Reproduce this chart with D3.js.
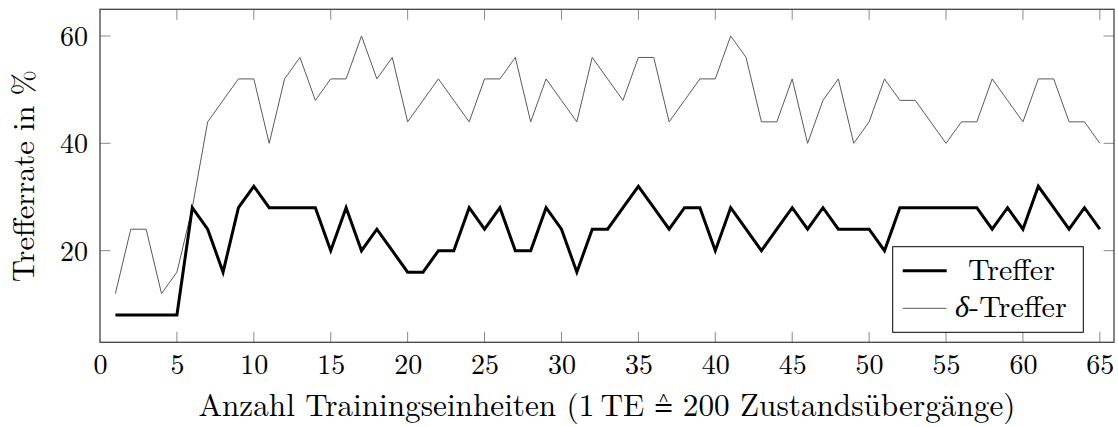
<!DOCTYPE html>
<html>
<head>
<meta charset="utf-8">
<script src="https://cdn.jsdelivr.net/npm/d3@7"></script>
<style>
  html, body { margin: 0; padding: 0; background: #fff; }
  svg { display: block; }
</style>
</head>
<body>
<svg id="chart" width="1118" height="427"></svg>
<script>
// ---- data ----
const trainingUnits = [1,2,3,4,5,6,7,8,9,10,11,12,13,14,15,16,17,18,19,20,21,22,23,24,25,26,27,28,29,30,31,32,33,34,35,36,37,38,39,40,41,42,43,44,45,46,47,48,49,50,51,52,53,54,55,56,57,58,59,60,61,62,63,64,65];
const treffer = [8,8,8,8,8,28,24,16,28,32,28,28,28,28,20,28,20,24,20,16,16,20,20,28,24,28,20,20,28,24,16,24,24,28,32,28,24,28,28,20,28,24,20,24,28,24,28,24,24,24,20,28,28,28,28,28,28,24,28,24,32,28,24,28,24];
const deltaTreffer = [12,24,24,12,16,28,44,48,52,52,40,52,56,48,52,52,60,52,56,44,48,52,48,44,52,52,56,44,52,48,44,56,52,48,56,56,44,48,52,52,60,56,44,44,52,40,48,52,40,44,52,48,48,44,40,44,44,52,48,44,52,52,44,44,40];
const xTicks = [0,5,10,15,20,25,30,35,40,45,50,55,60,65];
const yTicks = [20,40,60];
const seriesNames = ["Treffer", "δ-Treffer"];
const xLabelParts = ["Anzahl Trainingseinheiten (1\u2009TE ", "\u2259", " 200 Zustandsübergänge)"];
const yLabel = "Trefferrate in %";

// ---- layout ----
const FONT = '"Latin Modern Roman", "CMU Serif", "Liberation Serif", serif';
const L = 100, R = 1114, T = 9.3, B = 342.3;
const svg = d3.select("#chart");
const x = d3.scaleLinear().domain([0, 65.92]).range([L, R]);
const y = d3.scaleLinear().domain([2.93, 64.97]).range([B, T]);
const FS = 28;

function styleText(sel, fs) {
  return sel.style("font-family", FONT).style("font-size", fs + "px").style("fill", "#000");
}

// ticks (inward, all four sides)
const tickLen = 10.5;
const tickG = svg.append("g").attr("stroke", "#8a8a8a").attr("stroke-width", 1);
xTicks.forEach(v => {
  if (v === 0) return;
  tickG.append("line").attr("x1", x(v)).attr("x2", x(v)).attr("y1", B).attr("y2", B - tickLen);
  tickG.append("line").attr("x1", x(v)).attr("x2", x(v)).attr("y1", T).attr("y2", T + tickLen);
});
yTicks.forEach(v => {
  tickG.append("line").attr("x1", L).attr("x2", L + tickLen).attr("y1", y(v)).attr("y2", y(v));
  tickG.append("line").attr("x1", R).attr("x2", R - tickLen).attr("y1", y(v)).attr("y2", y(v));
});

// axes via d3 (labels only)
const xAxis = svg.append("g").attr("transform", `translate(0,${B})`)
  .call(d3.axisBottom(x).tickValues(xTicks).tickSize(0).tickPadding(31).tickFormat(d3.format("d")));
const yAxis = svg.append("g").attr("transform", `translate(${L},0)`)
  .call(d3.axisLeft(y).tickValues(yTicks).tickSize(0).tickPadding(12).tickFormat(d3.format("d")));
[xAxis, yAxis].forEach(g => {
  g.select(".domain").remove();
  styleText(g.selectAll("text"), FS);
});
xAxis.selectAll("text").attr("dy", 0).attr("y", 31.5);
yAxis.selectAll("text").attr("dy", "0.34em");

// lines
const line = d3.line().x((d, i) => x(trainingUnits[i])).y(d => y(d));
const plot = svg.append("g");
plot.append("path").datum(deltaTreffer).attr("d", line)
  .attr("fill", "none").attr("stroke", "#5a5a5a").attr("stroke-width", 1).attr("stroke-linejoin", "miter");
plot.append("path").datum(treffer).attr("d", line)
  .attr("fill", "none").attr("stroke", "#000").attr("stroke-width", 3).attr("stroke-linejoin", "miter");

// frame
svg.append("rect").attr("x", L).attr("y", T).attr("width", R - L).attr("height", B - T)
  .attr("fill", "none").attr("stroke", "#444").attr("stroke-width", 1.3);

// fit helper
function fit(sel, target) {
  const w = sel.node().getComputedTextLength();
  const fs = parseFloat(sel.style("font-size"));
  sel.style("font-size", (fs * target / w) + "px");
}

// x label
const xl = styleText(svg.append("text"), FS).attr("x", (L + R) / 2).attr("y", 416)
  .attr("text-anchor", "middle");
xl.append("tspan").text(xLabelParts[0]);
xl.append("tspan").style("font-family", '"FreeSerif", "DejaVu Serif", serif').text(xLabelParts[1]);
xl.append("tspan").text(xLabelParts[2]);
fit(xl, 817);

// y label
const yl = styleText(svg.append("text"), FS).attr("transform", `translate(33.5,176) rotate(-90)`)
  .attr("text-anchor", "middle").text(yLabel);
fit(yl, 212);

// legend
const lg = svg.append("g");
lg.append("rect").attr("x", 892.7).attr("y", 246.7).attr("width", 190.6).attr("height", 85.6)
  .attr("fill", "#fff").attr("stroke", "#000").attr("stroke-width", 1);
const legendRows = [
  { y: 270.7, w: 3, c: "#000" },
  { y: 308.3, w: 1, c: "#5a5a5a" }
];
legendRows.forEach(r => {
  lg.append("line").attr("x1", 902.7).attr("x2", 946.7).attr("y1", r.y).attr("y2", r.y)
    .attr("stroke", r.c).attr("stroke-width", r.w);
});
const t1 = styleText(lg.append("text"), FS).attr("x", 1011.5).attr("y", 279.5).attr("text-anchor", "middle")
  .text(seriesNames[0]);
fit(t1, 87);
const t2 = styleText(lg.append("text"), FS).attr("x", 1011).attr("y", 316.5).attr("text-anchor", "middle");
t2.append("tspan").style("font-style", "italic").text(seriesNames[1].slice(0, 1));
t2.append("tspan").text(seriesNames[1].slice(1));
fit(t2, 112);
</script>
</body>
</html>
